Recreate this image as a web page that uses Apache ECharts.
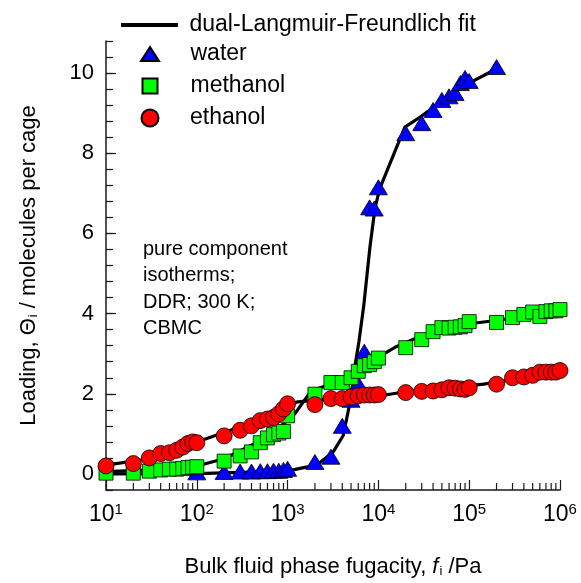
<!DOCTYPE html>
<html>
<head>
<meta charset="utf-8">
<script src="https://cdn.jsdelivr.net/npm/echarts@6/dist/echarts.min.js"></script>
<style>
  html, body { margin: 0; padding: 0; background: #fff; }
  #chart { width: 581px; height: 583px; }
</style>
</head>
<body>
<div id="chart"></div>
<script>
// Pure component isotherms in DDR at 300 K (CBMC): loading vs bulk fugacity.

// Fugacity grid (Pa) shared by the methanol and ethanol simulations
const alcoholF = [
  10, 20, 30, 40, 50, 60, 70, 80, 90,
  100, 200, 300, 400, 500, 600, 700, 800, 900,
  1000, 2000, 3000, 4000, 5000, 6000, 7000, 8000, 9000,
  10000, 20000, 30000, 40000, 50000, 60000, 70000, 80000, 90000,
  100000, 200000, 300000, 400000, 500000, 600000, 700000, 800000, 900000,
  1000000
];
const ethanolQ = [
  0.20, 0.26, 0.40, 0.51, 0.53, 0.59, 0.67, 0.76, 0.80,
  0.78, 0.95, 1.09, 1.20, 1.33, 1.37, 1.41, 1.50, 1.62,
  1.75, 1.73, 1.88, 1.88, 1.92, 1.95, 1.97, 1.97, 1.97,
  1.98, 2.03, 2.06, 2.07, 2.10, 2.15, 2.14, 2.12, 2.11,
  2.15, 2.24, 2.40, 2.42, 2.46, 2.54, 2.54, 2.54, 2.54,
  2.58
];
const methanolQ = [
  0.02, 0.02, 0.07, 0.10, 0.12, 0.12, 0.14, 0.16, 0.17,
  0.18, 0.32, 0.45, 0.55, 0.78, 0.90, 0.98, 1.02, 1.06,
  1.45, 1.99, 2.28, 2.28, 2.40, 2.56, 2.70, 2.73, 2.80,
  2.89, 3.15, 3.35, 3.55, 3.65, 3.64, 3.66, 3.67, 3.70,
  3.80, 3.78, 3.90, 3.98, 4.04, 3.93, 4.05, 4.07, 4.07,
  4.10
];

const waterF = [
  100, 200, 300, 400, 500, 600, 700, 800, 900,
  1000, 2000, 3000, 4000, 5000, 6000, 7000, 8000, 9000,
  10000, 20000, 30000, 40000, 50000, 60000, 70000, 80000, 90000,
  100000, 200000
];
const waterQ = [
  0.04, 0.05, 0.06, 0.06, 0.07, 0.07, 0.08, 0.08, 0.10,
  0.13, 0.30, 0.43, 1.20, 1.85, 2.25, 3.05, 6.65, 6.62,
  7.15, 8.50, 8.75, 9.08, 9.33, 9.42, 9.50, 9.75, 9.88,
  9.80, 10.15
];

// Dual-Langmuir-Freundlich fit curves
const waterFitF = [10, 100, 1000, 1370, 2090, 3180, 4100, 4860, 5520, 6100, 6900, 8060, 9160, 10400, 17300, 19600, 30000, 47600, 94000, 193000];
const waterFitQ = [0, 0.01, 0.07, 0.14, 0.22, 0.55, 0.96, 1.78, 2.69, 3.30, 4.20, 5.65, 6.63, 7.13, 8.36, 8.65, 8.93, 9.27, 9.72, 10.09];

const methanolFitF = [10, 50, 100, 200, 262, 437, 860, 1200, 1760, 2000, 2930, 5080, 9570, 15900, 26300, 47600, 111000, 219000, 515000, 1000000];
const methanolFitQ = [0.06, 0.12, 0.20, 0.38, 0.51, 0.76, 1.21, 1.50, 2.03, 2.10, 2.24, 2.44, 2.89, 3.18, 3.39, 3.59, 3.76, 3.84, 3.99, 4.09];

const ethanolFitF = [10, 30, 50, 100, 262, 610, 1060, 1300, 2000, 5000, 10500, 22400, 50000, 144000, 307000, 1000000];
const ethanolFitQ = [0.22, 0.38, 0.52, 0.80, 1.13, 1.41, 1.74, 1.80, 1.84, 1.90, 1.95, 2.07, 2.13, 2.24, 2.36, 2.58];

// Axis settings
const xMin = 10, xMax = 1e6;
const yMin = -0.4, yMax = 10.8, yStep = 0.4;
const yMajorTicks = [0, 2, 4, 6, 8, 10];
const xMinorTicks = [
  20, 30, 40, 50, 60, 70, 80, 90,
  200, 300, 400, 500, 600, 700, 800, 900,
  2000, 3000, 4000, 5000, 6000, 7000, 8000, 9000,
  20000, 30000, 40000, 50000, 60000, 70000, 80000, 90000,
  200000, 300000, 400000, 500000, 600000, 700000, 800000, 900000
];

const FIT = 'dual-Langmuir-Freundlich fit';
const FONT = 'Liberation Sans, Arial, Helvetica, sans-serif';
const AXIS_COLOR = '#1a1a1a';

const zip = (xs, ys) => xs.map((x, i) => [x, ys[i]]);

function fitSeries(f, q) {
  return {
    name: FIT, type: 'line', data: zip(f, q),
    showSymbol: false, symbol: 'none', smooth: false,
    color: '#000',
    lineStyle: { color: '#000', width: 3.2 },
    z: 2, silent: true
  };
}

function markerSeries(name, f, q, symbol, size, color) {
  return {
    name, type: 'scatter', data: zip(f, q),
    symbol, symbolSize: size,
    itemStyle: { color, borderColor: '#000', borderWidth: 0.8, opacity: 1 },
    z: 5, silent: true
  };
}

function legendRow(name, top, left, w, h, padLeft, icon) {
  const item = icon ? { name, icon } : { name };
  return {
    data: [item], top, left, padding: 0,
    itemWidth: w, itemHeight: h, symbolKeepAspect: false,
    selectedMode: false,
    textStyle: { fontFamily: FONT, fontSize: 23, lineHeight: 24, color: '#000', padding: [0, 0, 0, padLeft] }
  };
}

const chart = echarts.init(document.getElementById('chart'), null, { renderer: 'canvas' });

chart.setOption({
  backgroundColor: '#fff',
  animation: false,
  grid: { left: 106, right: 21, top: 41, bottom: 90, containLabel: false },
  legend: [
    legendRow(FIT, 13, 121, 57, 4, 6.5, 'rect'),
    legendRow('water', 42, 140, 18, 14, 26.5),
    legendRow('methanol', 74, 141.5, 15, 15, 28),
    legendRow('ethanol', 106, 140.5, 17, 17, 26.5)
  ],
  xAxis: {
    type: 'log', logBase: 10, min: xMin, max: xMax,
    name: 'Bulk fluid phase fugacity, {it|f}{sub|i} /Pa',
    nameLocation: 'middle', nameGap: 66,
    nameTextStyle: {
      fontFamily: FONT, fontSize: 22, color: '#000',
      rich: {
        it: { fontFamily: FONT, fontSize: 22, fontStyle: 'italic', color: '#000' },
        sub: { fontFamily: FONT, fontSize: 13, color: '#000', verticalAlign: 'bottom', padding: [8, 0, 0, 1] }
      }
    },
    axisLine: { show: true, onZero: false, lineStyle: { color: AXIS_COLOR, width: 1.5 } },
    axisTick: { show: true, inside: true, length: 10, lineStyle: { color: AXIS_COLOR, width: 1.2 } },
    splitLine: { show: false },
    axisLabel: {
      margin: 12, color: '#000', fontFamily: FONT,
      formatter: v => '{b|10}{sup|' + Math.round(Math.log10(v)) + '}',
      rich: {
        b: { fontFamily: FONT, fontSize: 23, color: '#000', verticalAlign: 'bottom', lineHeight: 24 },
        sup: { fontFamily: FONT, fontSize: 15, color: '#000', verticalAlign: 'top', lineHeight: 15, padding: [0, 0, 16, 0] }
      }
    }
  },
  yAxis: [
    {
      type: 'value', min: yMin, max: yMax, interval: yStep,
      name: 'Loading, \u0398{sub|i} / molecules per cage',
      nameLocation: 'middle', nameRotate: 90, nameGap: 66,
      nameTextStyle: {
        fontFamily: FONT, fontSize: 22, color: '#000',
        rich: {
          sub: { fontFamily: FONT, fontSize: 13, color: '#000', verticalAlign: 'bottom', padding: [8, 0, 0, 1] }
        }
      },
      axisLine: { show: true, onZero: false, lineStyle: { color: AXIS_COLOR, width: 1.5 } },
      axisTick: { show: true, inside: true, length: 7, lineStyle: { color: AXIS_COLOR, width: 1.2 } },
      splitLine: { show: false },
      axisLabel: {
        margin: 12, color: '#000', fontFamily: FONT, fontSize: 22,
        formatter: v => {
          const r = Math.round(v);
          return (Math.abs(v - r) < 1e-6 && r % 2 === 0) ? String(r) : '';
        }
      }
    },
    {
      type: 'value', min: yMin, max: yMax, interval: yStep,
      axisLine: { show: false },
      axisLabel: { show: false },
      splitLine: { show: false },
      axisTick: { show: true, inside: true, length: 10, customValues: yMajorTicks, lineStyle: { color: AXIS_COLOR, width: 1.2 } },
      position: 'left', offset: 0
    }
  ],
  graphic: [
    {
      type: 'text', left: 143, top: 236, silent: true,
      style: {
        text: 'pure component\nisotherms;\nDDR; 300 K;\nCBMC',
        fontFamily: FONT, fontSize: 20, lineHeight: 26.5, fill: '#000'
      }
    }
  ],
  series: [
    // minor decade ticks on the log axis
    {
      type: 'custom', silent: true, clip: false, z: 1,
      data: xMinorTicks.map(v => [v, yMin]),
      renderItem: (params, api) => {
        const p = api.coord([api.value(0), yMin]);
        return {
          type: 'line',
          shape: { x1: p[0], y1: p[1], x2: p[0], y2: p[1] - 7 },
          style: { stroke: AXIS_COLOR, lineWidth: 1.2 }
        };
      }
    },
    fitSeries(waterFitF, waterFitQ),
    fitSeries(methanolFitF, methanolFitQ),
    fitSeries(ethanolFitF, ethanolFitQ),
    markerSeries('water', waterF, waterQ, 'triangle', [18, 15], '#0000ff'),
    markerSeries('methanol', alcoholF, methanolQ, 'rect', 14, '#00ff00'),
    markerSeries('ethanol', alcoholF, ethanolQ, 'circle', 16, '#ff0000')
  ]
});
</script>
</body>
</html>
